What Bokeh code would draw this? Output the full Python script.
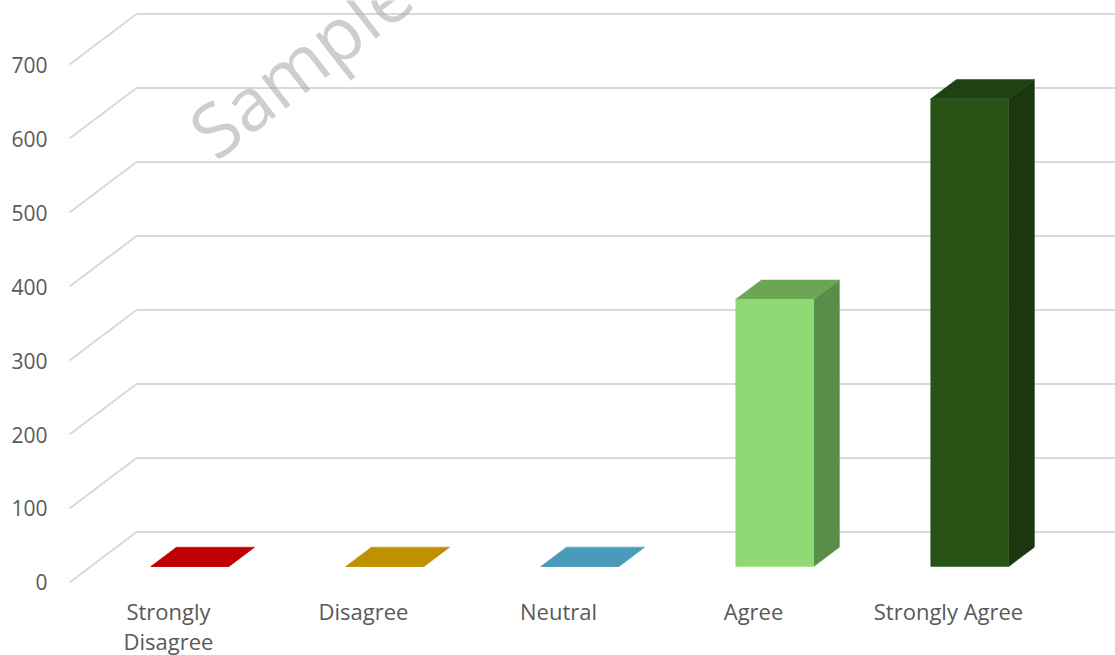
from bokeh.plotting import figure
from bokeh.models import Range1d
from bokeh.core.properties import value
from bokeh.embed import file_html
from bokeh.resources import INLINE

# Survey responses
categories = ["Strongly\nDisagree", "Disagree", "Neutral", "Agree", "Strongly Agree"]
counts = [0, 0, 0, 361, 632]
y_ticks = [0, 100, 200, 300, 400, 500, 600, 700]
y_tick_labels = [str(t) for t in y_ticks]

# Face colours of the 3-D columns
front_colors = ["#C00000", "#BF9000", "#4A9BB9", "#8ED973", "#275317"]
top_colors = ["#C00000", "#BF9000", "#4A9BB9", "#6AA654", "#1F4213"]
side_colors = ["#C00000", "#BF9000", "#4A9BB9", "#5A8C4A", "#1A3710"]

FONT = "Open Sans"
TEXT = "#595959"

# Oblique projection of the depth axis (data units) and column layout
DX, DY = 0.3436, 68.24          # full depth: shift right / up
F_DEPTH, B_DEPTH = 0.317, 0.70  # column front and back, as depth fractions
HW = 0.2                         # half column width
X_WALL = -0.5077                 # left edge of the floor
X_END = 4.8564
X_TICKLABEL = -0.6205            # right edge of the value labels
Y_CATLABEL = -17.6               # top of the category labels

p = figure(width=1115, height=655, output_backend="svg", toolbar_location=None,
           x_range=Range1d(-0.86154, 4.85641), y_range=Range1d(-98.65, 786.49),
           x_axis_location=None, y_axis_location=None,
           min_border_left=0, min_border_right=0,
           min_border_top=0, min_border_bottom=0)
p.background_fill_color = "white"
p.border_fill_color = "white"
p.outline_line_color = None
p.grid.visible = False

# Side wall diagonals and back wall gridlines
grid_xs = [[X_WALL, X_WALL + DX, X_END] for v in y_ticks]
grid_ys = [[v, v + DY, v + DY] for v in y_ticks]
p.multi_line(grid_xs, grid_ys, line_color="#D9D9D9", line_width=2)

# Value labels along the front edge of the side wall
p.text(x=[X_TICKLABEL] * len(y_ticks), y=y_ticks, text=y_tick_labels,
       text_font=value(FONT), text_font_size="21px", text_color=TEXT,
       text_align="right", text_baseline="middle")

# Watermark
p.text(x=[0.155], y=[598], text=["Sample"], angle=0.66,
       text_font=value(FONT), text_font_size="74px", text_color="#A6A6A6",
       text_alpha=0.55, text_align="left", text_baseline="alphabetic")

# Columns: front, top and right side faces
idx = list(range(len(categories)))
fx = [i + F_DEPTH * DX for i in idx]
bx = [i + B_DEPTH * DX for i in idx]
fy0 = F_DEPTH * DY
by0 = B_DEPTH * DY

side_xs = [[fx[i] + HW, bx[i] + HW, bx[i] + HW, fx[i] + HW] for i in idx]
side_ys = [[fy0, by0, by0 + counts[i], fy0 + counts[i]] for i in idx]
top_xs = [[fx[i] - HW, fx[i] + HW, bx[i] + HW, bx[i] - HW] for i in idx]
top_ys = [[fy0 + counts[i], fy0 + counts[i], by0 + counts[i], by0 + counts[i]] for i in idx]

p.patches(side_xs, side_ys, fill_color=side_colors, line_color=side_colors, line_width=0.5)
p.patches(top_xs, top_ys, fill_color=top_colors, line_color=top_colors, line_width=0.5)
p.quad(left=[x - HW for x in fx], right=[x + HW for x in fx],
       bottom=[fy0] * len(idx), top=[fy0 + c for c in counts],
       fill_color=front_colors, line_color=front_colors, line_width=0.5)

# Category labels below the floor
p.text(x=idx, y=[Y_CATLABEL] * len(idx), text=categories,
       text_font=value(FONT), text_font_size="22px", text_color=TEXT,
       text_align="center", text_baseline="top", text_line_height=1.0)

open("out.html", "w").write(file_html(p, INLINE))
